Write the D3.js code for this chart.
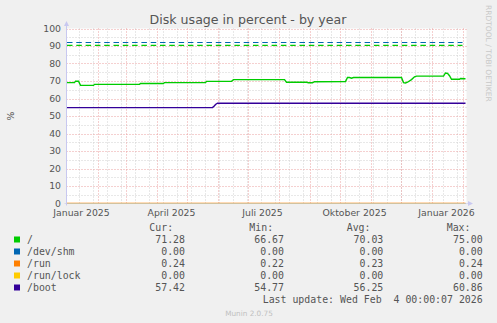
<!DOCTYPE html>
<html>
<head>
<meta charset="utf-8">
<script src="https://cdn.jsdelivr.net/npm/d3@7"></script>
<style>
body { margin: 0; background: #f0f0f0; }
svg { display: block; }
text { font-family: "DejaVu Sans", sans-serif; fill: #555; }
.mono { font-family: "DejaVu Sans Mono", monospace; font-size: 9.9px; white-space: pre; }
</style>
</head>
<body>
<svg id="chart" width="497" height="323"></svg>
<script>
'use strict';

var title = "Disk usage in percent - by year";
var yTicks = [0, 10, 20, 30, 40, 50, 60, 70, 80, 90, 100];
var xLabelMonths = ["2025-01-01", "2025-04-01", "2025-07-01", "2025-10-01", "2026-01-01"];
var xLabels = ["Januar 2025", "April 2025", "Juli 2025", "Oktober 2025", "Januar 2026"];

var seriesNames = ["/", "/dev/shm", "/run", "/run/lock", "/boot"];
var seriesColors = ["#00cc00", "#0066b3", "#ff8000", "#ffcc00", "#330099"];

// [date, percent]
var rootValues = [
  ["2025-01-01", 69.1], ["2025-01-09", 69.1], ["2025-01-10", 69.9], ["2025-01-13", 69.9],
  ["2025-01-15", 67.5], ["2025-01-28", 67.5], ["2025-01-29", 68.1], ["2025-03-15", 68.1],
  ["2025-03-16", 68.6], ["2025-04-08", 68.6], ["2025-04-09", 69.1], ["2025-05-20", 69.1],
  ["2025-05-21", 69.8], ["2025-06-15", 69.8], ["2025-06-17", 70.8], ["2025-08-07", 70.8],
  ["2025-08-09", 69.3], ["2025-08-29", 69.3], ["2025-08-31", 69.0], ["2025-09-04", 69.0],
  ["2025-09-06", 69.6], ["2025-10-07", 69.7], ["2025-10-09", 72.0], ["2025-10-11", 72.0],
  ["2025-10-13", 71.6], ["2025-10-15", 72.0], ["2025-12-02", 72.0], ["2025-12-04", 69.1],
  ["2025-12-06", 68.9], ["2025-12-08", 69.3], ["2025-12-12", 70.8], ["2025-12-15", 72.4],
  ["2025-12-17", 72.8], ["2026-01-13", 72.8], ["2026-01-15", 74.6], ["2026-01-17", 74.4],
  ["2026-01-19", 73.0], ["2026-01-21", 71.0], ["2026-01-29", 71.0], ["2026-01-30", 71.4],
  ["2026-02-04", 71.3]
];
var shmValues = [["2025-01-01", 0], ["2026-02-04", 0]];
var runValues = [["2025-01-01", 0.22], ["2026-02-04", 0.24]];
var lockValues = [["2025-01-01", 0], ["2026-02-04", 0]];
var bootValues = [
  ["2025-01-01", 54.8], ["2025-05-27", 54.8], ["2025-05-29", 55.9], ["2025-05-30", 56.6],
  ["2025-06-01", 57.3], ["2026-02-04", 57.3]
];

// dashed limit lines
var limitValues = [92, 90.4];
var limitColors = ["#0066b3", "#00cc00"];

var legendHeads = ["Cur:", "Min:", "Avg:", "Max:"];
var curCol = ["71.28", "0.00", "0.24", "0.00", "57.42"];
var minCol = ["66.67", "0.00", "0.22", "0.00", "54.77"];
var avgCol = ["70.03", "0.00", "0.23", "0.00", "56.25"];
var maxCol = ["75.00", "0.00", "0.24", "0.00", "60.86"];
var lastUpdate = "Last update: Wed Feb  4 00:00:07 2026";

var parse = d3.utcParse("%Y-%m-%d");
var svg = d3.select("#chart");

var plotLeft = 66.5, plotTop = 28.5, plotWidth = 400, plotHeight = 175;

var x = d3.scaleUtc()
    .domain([parse("2025-01-01"), parse("2026-02-05")])
    .range([plotLeft, plotLeft + plotWidth]);
var y = d3.scaleLinear()
    .domain([0, 100])
    .range([plotTop + plotHeight, plotTop]);

svg.append("rect")
    .attr("width", 497).attr("height", 323)
    .attr("fill", "#f0f0f0");
svg.append("rect")
    .attr("x", plotLeft).attr("y", plotTop)
    .attr("width", plotWidth).attr("height", plotHeight)
    .attr("fill", "#fff");

var g = svg.append("g");

// minor grid
var minorY = d3.range(5, 100, 10);
g.selectAll(".minory").data(minorY).enter().append("line")
    .attr("x1", plotLeft).attr("x2", plotLeft + plotWidth)
    .attr("y1", function(d) { return Math.round(y(d)) + 0.5; })
    .attr("y2", function(d) { return Math.round(y(d)) + 0.5; })
    .attr("stroke", "#d0d0d0").attr("stroke-dasharray", "1,2");
var minorX = d3.utcMonday.range(parse("2025-01-13"), x.domain()[1], 2);
g.selectAll(".minorx").data(minorX).enter().append("line")
    .attr("x1", function(d) { return Math.round(x(d)) + 0.5; })
    .attr("x2", function(d) { return Math.round(x(d)) + 0.5; })
    .attr("y1", plotTop).attr("y2", plotTop + plotHeight)
    .attr("stroke", "#d0d0d0").attr("stroke-dasharray", "1,2");

// major grid
g.selectAll(".majory").data(yTicks.slice(1)).enter().append("line")
    .attr("x1", plotLeft).attr("x2", plotLeft + plotWidth + 2)
    .attr("y1", function(d) { return Math.round(y(d)) + 0.5; })
    .attr("y2", function(d) { return Math.round(y(d)) + 0.5; })
    .attr("stroke", "#eba0a0").attr("stroke-dasharray", "1,2");
var majorX = d3.utcMonth.range(parse("2025-02-01"), x.domain()[1]);
g.selectAll(".majorx").data(majorX).enter().append("line")
    .attr("x1", function(d) { return Math.round(x(d)) + 0.5; })
    .attr("x2", function(d) { return Math.round(x(d)) + 0.5; })
    .attr("y1", plotTop).attr("y2", plotTop + plotHeight + 2)
    .attr("stroke", "#eba0a0").attr("stroke-dasharray", "1,2");

// y tick labels
svg.selectAll(".ylab").data(yTicks).enter().append("text")
    .attr("x", 61)
    .attr("y", function(d) { return y(d) + 3.3; })
    .attr("text-anchor", "end")
    .style("font-size", "9.3px")
    .text(function(d) { return d; });

// x labels, centred half a month after the tick
svg.selectAll(".xlab").data(xLabelMonths).enter().append("text")
    .attr("x", function(d) { return x(d3.utcDay.offset(parse(d), 15)); })
    .attr("y", 215.5)
    .attr("text-anchor", "middle")
    .style("font-size", "9.3px")
    .text(function(d, i) { return xLabels[i]; });

// limit lines
svg.selectAll(".limit").data(limitValues).enter().append("line")
    .attr("x1", plotLeft + 0.5).attr("x2", x(parse("2026-02-01")))
    .attr("y1", function(d) { return y(d); })
    .attr("y2", function(d) { return y(d); })
    .attr("stroke", function(d, i) { return limitColors[i]; })
    .attr("stroke-width", 1.2)
    .attr("stroke-dasharray", "5.5,3.8");

var line = d3.line()
    .x(function(d) { return x(parse(d[0])); })
    .y(function(d) { return y(d[1]); });

var allSeries = [rootValues, shmValues, runValues, lockValues, bootValues];
var seriesWidths = [1.4, 1, 1, 1, 1.4];
svg.selectAll(".series").data(allSeries).enter().append("path")
    .attr("d", line)
    .attr("fill", "none")
    .attr("stroke", function(d, i) { return seriesColors[i]; })
    .attr("stroke-opacity", function(d, i) { return seriesWidths[i] < 1.2 ? 0.7 : 1; })
    .attr("stroke-width", function(d, i) { return seriesWidths[i]; });

// axes
var axisColor = "#c8c8f0";
svg.append("line")
    .attr("x1", plotLeft).attr("x2", plotLeft)
    .attr("y1", plotTop - 3).attr("y2", plotTop + plotHeight + 2)
    .attr("stroke", axisColor);
svg.append("line")
    .attr("x1", plotLeft - 2).attr("x2", plotLeft + plotWidth + 3)
    .attr("y1", plotTop + plotHeight).attr("y2", plotTop + plotHeight)
    .attr("stroke", axisColor).attr("stroke-opacity", 0.6);
svg.append("path")
    .attr("d", "M" + (plotLeft - 2.5) + "," + (plotTop - 2.5) + "L" + plotLeft + "," + (plotTop - 7.5) + "L" + (plotLeft + 2.5) + "," + (plotTop - 2.5) + "Z")
    .attr("fill", axisColor);
svg.append("path")
    .attr("d", "M" + (plotLeft + plotWidth + 1.5) + "," + (plotTop + plotHeight - 2.5) + "L" + (plotLeft + plotWidth + 6.5) + "," + (plotTop + plotHeight) + "L" + (plotLeft + plotWidth + 1.5) + "," + (plotTop + plotHeight + 2.5) + "Z")
    .attr("fill", axisColor);

// title and side texts
svg.append("text")
    .attr("x", 248).attr("y", 23.5)
    .attr("text-anchor", "middle")
    .style("font-size", "12.6px")
    .text(title);
svg.append("text")
    .attr("transform", "translate(14," + (plotTop + plotHeight / 2) + ") rotate(-90)")
    .attr("text-anchor", "middle")
    .style("font-size", "9.3px")
    .text("%");
svg.append("text")
    .attr("transform", "translate(486,5) rotate(90)")
    .style("font-size", "7.5px")
    .style("fill", "#c8c8c8")
    .text("RRDTOOL / TOBI OETIKER");
svg.append("text")
    .attr("x", 249).attr("y", 315.5)
    .attr("text-anchor", "middle")
    .style("font-size", "7.3px")
    .style("fill", "#c0c0c0")
    .text("Munin 2.0.75");

// legend
var headX = [149.3, 249.3, 346.7, 446.7];
svg.selectAll(".head").data(legendHeads).enter().append("text")
    .attr("class", "mono")
    .attr("x", function(d, i) { return headX[i]; })
    .attr("y", 231)
    .text(function(d) { return d; });

var rows = svg.selectAll(".row").data(seriesNames).enter().append("g")
    .attr("transform", function(d, i) { return "translate(0," + (243 + i * 12) + ")"; });
rows.append("rect")
    .attr("x", 14).attr("y", -6.5)
    .attr("width", 6).attr("height", 6)
    .attr("fill", function(d, i) { return seriesColors[i]; });
rows.append("text")
    .attr("class", "mono")
    .attr("x", 27)
    .text(function(d) { return d; });

var colRight = [185, 284, 383.3, 482.7];
[curCol, minCol, avgCol, maxCol].forEach(function(col, c) {
  rows.append("text")
      .attr("class", "mono")
      .attr("x", colRight[c])
      .attr("text-anchor", "end")
      .text(function(d, i) { return col[i]; });
});

svg.append("text")
    .attr("class", "mono")
    .attr("x", 482.7).attr("y", 303)
    .attr("text-anchor", "end")
    .text(lastUpdate);
</script>
</body>
</html>
